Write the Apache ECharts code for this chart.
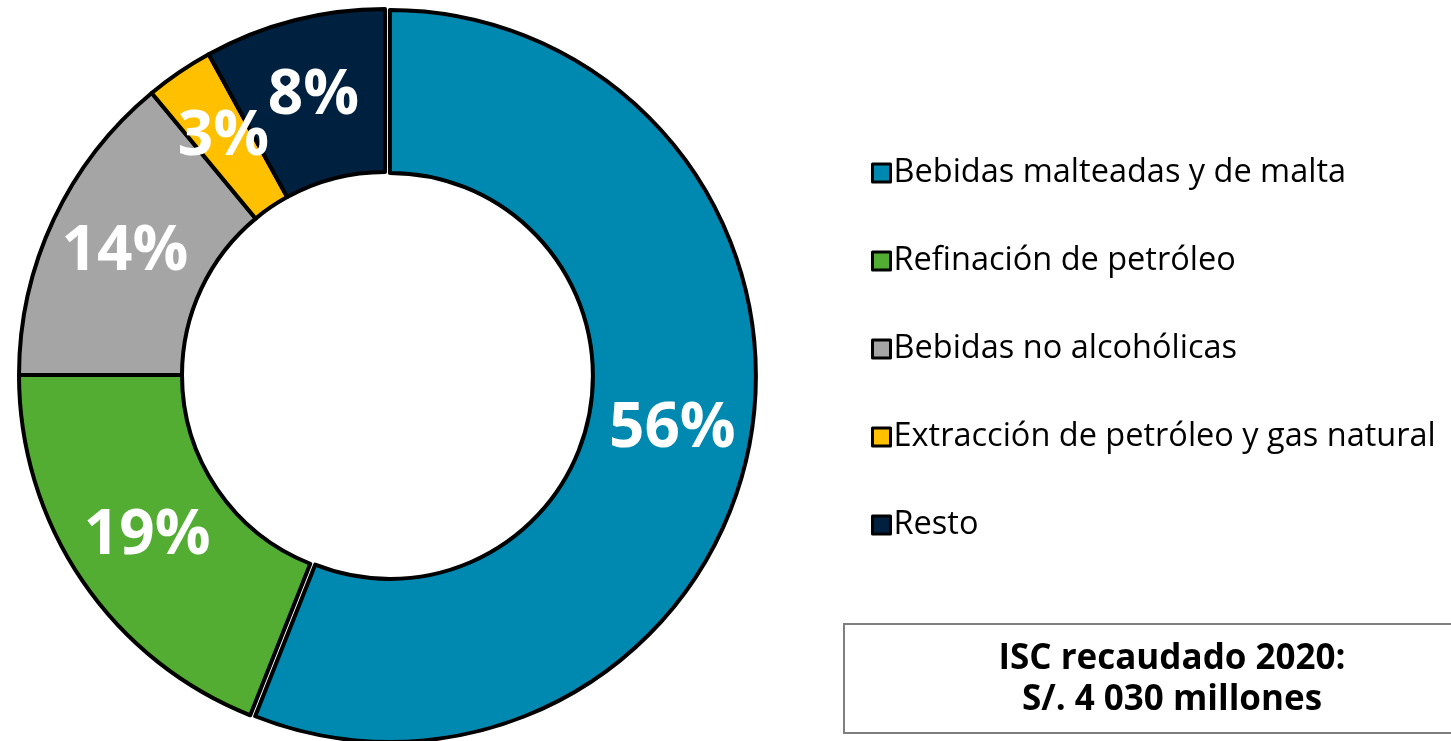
<!DOCTYPE html>
<html>
<head>
<meta charset="utf-8">
<script src="https://cdn.jsdelivr.net/npm/echarts@6/dist/echarts.min.js"></script>
<style>
  html, body { margin: 0; padding: 0; background: #fff; }
  #chart { width: 1451px; height: 741px; }
</style>
</head>
<body>
<div id="chart"></div>
<script>
// ISC recaudado 2020 por actividad (% del total)
const categories = [
  "Bebidas malteadas y de malta",
  "Refinación de petróleo",
  "Bebidas no alcohólicas",
  "Extracción de petróleo y gas natural",
  "Resto"
];
const shares = [56, 19, 14, 3, 8];
const colors = ["#0089B0", "#53AD33", "#A5A5A5", "#FFC000", "#002040"];
const boxLines = ["ISC recaudado 2020:", "S/. 4 030 millones"];

const chart = echarts.init(document.getElementById("chart"));

const data = categories.map((name, i) => ({
  name,
  value: shares[i],
  selected: i === 0, // first slice is pulled out a little
  itemStyle: { color: colors[i] }
}));

chart.setOption({
  animation: false,
  legend: {
    orient: "vertical",
    left: 866,
    top: 149,
    itemWidth: 18,
    itemHeight: 18,
    itemGap: 50,
    icon: "rect",
    selectedMode: false,
    itemStyle: { borderColor: "#000", borderWidth: 3 },
    textStyle: {
      fontFamily: "Open Sans",
      fontSize: 32.5,
      color: "#000",
      lineHeight: 38,
      padding: [0, 0, 0, -2]
    },
    data: categories
  },
  series: [{
    type: "pie",
    center: [385, 375],
    radius: [203, 366],
    startAngle: 90,
    clockwise: true,
    avoidLabelOverlap: false,
    labelLayout: { hideOverlap: false },
    selectedMode: "single",
    selectedOffset: 5,
    emphasis: { disabled: true },
    itemStyle: { borderColor: "#000", borderWidth: 4 },
    label: {
      show: true,
      position: "inside",
      formatter: "{c}%",
      color: "#fff",
      fontFamily: "Open Sans",
      fontWeight: "bold",
      fontSize: 62
    },
    labelLine: { show: false },
    data
  }],
  graphic: [
    {
      type: "rect",
      left: 843,
      top: 623,
      shape: { width: 620, height: 109 },
      style: { fill: "#fff", stroke: "#7f7f7f", lineWidth: 2 }
    },
    {
      type: "text",
      x: 1172,
      y: 680,
      style: {
        text: boxLines.join("\n"),
        align: "center",
        verticalAlign: "middle",
        fontFamily: "Open Sans",
        fontWeight: "bold",
        fontSize: 35,
        lineHeight: 41,
        fill: "#000"
      }
    }
  ]
});
</script>
</body>
</html>
